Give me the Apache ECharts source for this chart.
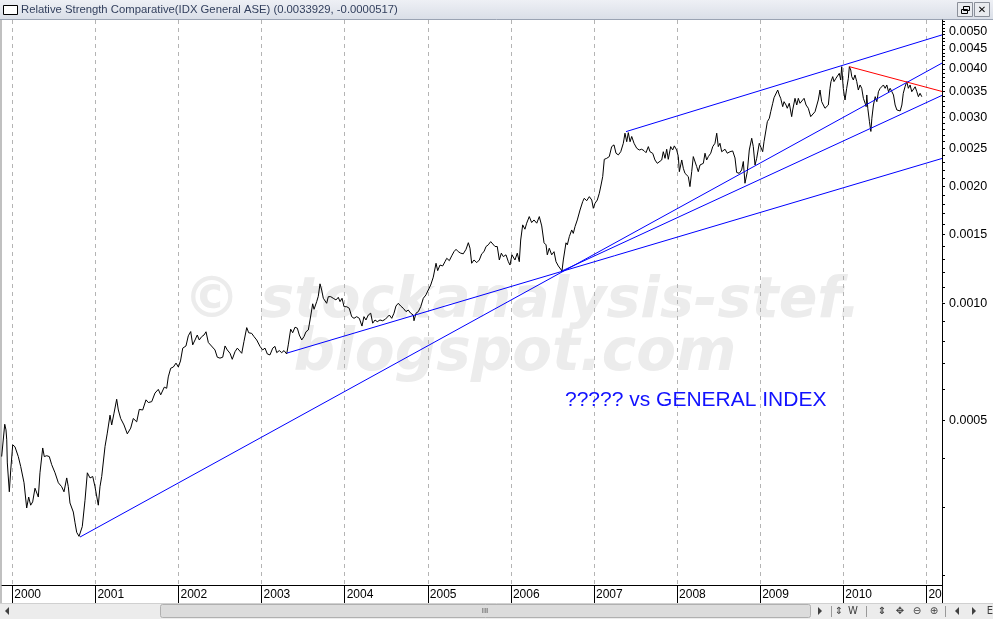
<!DOCTYPE html>
<html><head><meta charset="utf-8">
<script src="https://cdn.jsdelivr.net/npm/echarts@6/dist/echarts.min.js"></script>
<style>html,body{margin:0;padding:0;background:#fff;overflow:hidden}#c{width:993px;height:619px}</style>
</head><body><div id="c"></div>
<script>
// ---- data (decimal years, relative strength values) ----
const rsDates = [1999.872,1999.909,1999.924,1999.933,1999.940,1999.964,1999.981,2000.005,2000.032,2000.072,2000.101,2000.141,2000.173,2000.197,2000.221,2000.245,2000.273,2000.313,2000.333,2000.366,2000.385,2000.414,2000.445,2000.474,2000.514,2000.554,2000.594,2000.622,2000.655,2000.674,2000.694,2000.734,2000.755,2000.775,2000.803,2000.815,2000.842,2000.875,2000.903,2000.935,2000.968,2000.995,2001.035,2001.055,2001.076,2001.116,2001.143,2001.176,2001.196,2001.224,2001.256,2001.276,2001.304,2001.344,2001.384,2001.425,2001.456,2001.497,2001.528,2001.569,2001.609,2001.637,2001.678,2001.717,2001.757,2001.786,2001.810,2001.829,2001.858,2001.877,2001.906,2001.938,2001.970,2001.998,2002.024,2002.051,2002.090,2002.118,2002.147,2002.171,2002.199,2002.226,2002.250,2002.279,2002.307,2002.331,2002.359,2002.379,2002.439,2002.467,2002.499,2002.532,2002.560,2002.587,2002.620,2002.647,2002.680,2002.708,2002.732,2002.761,2002.788,2002.821,2002.845,2002.881,2002.909,2002.941,2002.981,2003.013,2003.041,2003.069,2003.101,2003.134,2003.161,2003.182,2003.213,2003.242,2003.270,2003.302,2003.321,2003.350,2003.374,2003.402,2003.430,2003.454,2003.483,2003.510,2003.534,2003.562,2003.583,2003.615,2003.631,2003.663,2003.682,2003.703,2003.723,2003.743,2003.763,2003.783,2003.803,2003.832,2003.863,2003.895,2003.923,2003.944,2003.968,2003.992,2004.024,2004.055,2004.084,2004.112,2004.144,2004.176,2004.208,2004.232,2004.256,2004.284,2004.313,2004.337,2004.365,2004.392,2004.425,2004.457,2004.489,2004.513,2004.537,2004.566,2004.593,2004.617,2004.645,2004.674,2004.705,2004.738,2004.765,2004.794,2004.826,2004.834,2004.858,2004.886,2004.915,2004.946,2004.978,2005.006,2005.035,2005.066,2005.099,2005.119,2005.147,2005.179,2005.207,2005.228,2005.259,2005.288,2005.315,2005.340,2005.367,2005.396,2005.427,2005.460,2005.488,2005.508,2005.528,2005.556,2005.589,2005.620,2005.649,2005.676,2005.701,2005.728,2005.757,2005.781,2005.809,2005.836,2005.861,2005.885,2005.909,2005.941,2005.969,2005.989,2006.013,2006.049,2006.077,2006.101,2006.118,2006.142,2006.169,2006.190,2006.221,2006.250,2006.278,2006.311,2006.342,2006.371,2006.399,2006.423,2006.438,2006.462,2006.491,2006.519,2006.543,2006.571,2006.591,2006.615,2006.631,2006.663,2006.679,2006.703,2006.732,2006.751,2006.772,2006.799,2006.832,2006.864,2006.883,2006.912,2006.944,2006.973,2006.992,2007.012,2007.040,2007.064,2007.085,2007.105,2007.124,2007.153,2007.184,2007.213,2007.241,2007.265,2007.293,2007.322,2007.353,2007.373,2007.394,2007.413,2007.434,2007.454,2007.482,2007.514,2007.545,2007.574,2007.602,2007.626,2007.654,2007.674,2007.707,2007.734,2007.762,2007.786,2007.815,2007.834,2007.855,2007.875,2007.894,2007.923,2007.947,2007.967,2007.995,2008.015,2008.027,2008.056,2008.075,2008.095,2008.116,2008.135,2008.155,2008.176,2008.195,2008.216,2008.236,2008.255,2008.276,2008.296,2008.316,2008.336,2008.356,2008.376,2008.405,2008.429,2008.456,2008.477,2008.496,2008.516,2008.537,2008.556,2008.577,2008.604,2008.637,2008.669,2008.697,2008.717,2008.748,2008.777,2008.797,2008.817,2008.829,2008.845,2008.869,2008.898,2008.917,2008.938,2008.958,2008.989,2009.006,2009.030,2009.046,2009.070,2009.086,2009.110,2009.127,2009.151,2009.167,2009.191,2009.211,2009.230,2009.247,2009.271,2009.287,2009.311,2009.326,2009.350,2009.379,2009.391,2009.419,2009.440,2009.459,2009.479,2009.500,2009.528,2009.552,2009.579,2009.608,2009.632,2009.660,2009.680,2009.699,2009.720,2009.740,2009.760,2009.780,2009.801,2009.820,2009.840,2009.852,2009.873,2009.888,2009.912,2009.928,2009.952,2009.969,2009.981,2010.000,2010.021,2010.041,2010.061,2010.073,2010.090,2010.102,2010.121,2010.141,2010.162,2010.181,2010.202,2010.222,2010.242,2010.263,2010.275,2010.283,2010.295,2010.315,2010.332,2010.344,2010.363,2010.384,2010.404,2010.423,2010.444,2010.464,2010.483,2010.504,2010.524,2010.544,2010.564,2010.585,2010.604,2010.624,2010.645,2010.664,2010.685,2010.705,2010.722,2010.743,2010.764,2010.783,2010.804,2010.824,2010.844,2010.865,2010.885,2010.904,2010.924,2010.945];
const rsValues = [0.000404,0.000489,0.000473,0.000446,0.000389,0.000328,0.000373,0.000433,0.000428,0.000404,0.000381,0.000346,0.000298,0.000318,0.000303,0.000309,0.000335,0.000318,0.000367,0.000425,0.000404,0.000406,0.000404,0.000385,0.000367,0.000346,0.000338,0.000328,0.000356,0.000338,0.000307,0.000291,0.000273,0.000258,0.000252,0.000251,0.000267,0.000312,0.000367,0.000356,0.000359,0.000338,0.000303,0.000338,0.000359,0.000429,0.000464,0.000516,0.000487,0.000522,0.000567,0.000532,0.000506,0.000487,0.000462,0.000478,0.000506,0.000496,0.000534,0.000532,0.000565,0.000556,0.000559,0.000588,0.000601,0.000582,0.000576,0.000609,0.000605,0.000647,0.000681,0.000686,0.000702,0.000686,0.000711,0.000767,0.000777,0.000825,0.000846,0.000782,0.000805,0.000829,0.000805,0.000821,0.000829,0.000845,0.000793,0.000798,0.000759,0.000727,0.000723,0.000727,0.000777,0.000759,0.000744,0.000718,0.000751,0.000767,0.000775,0.000744,0.000798,0.000866,0.000840,0.000837,0.000821,0.000805,0.000775,0.000759,0.000767,0.000741,0.000737,0.000767,0.000775,0.000747,0.000756,0.000747,0.000756,0.000741,0.000782,0.000858,0.000840,0.000868,0.000863,0.000829,0.000805,0.000821,0.000845,0.000854,0.000906,0.000997,0.000965,0.001010,0.001042,0.001122,0.001082,0.001030,0.001040,0.001000,0.001040,0.001040,0.001030,0.001020,0.001036,0.001010,0.001030,0.000980,0.000980,0.000971,0.000924,0.000915,0.000924,0.000915,0.000874,0.000924,0.000906,0.000933,0.000943,0.000889,0.000906,0.000897,0.000906,0.000902,0.000910,0.000915,0.000933,0.000915,0.000943,0.000984,0.001000,0.000984,0.000971,0.000952,0.000961,0.000943,0.000933,0.000902,0.000943,0.000952,0.000980,0.001030,0.001051,0.001082,0.001114,0.001167,0.001267,0.001213,0.001254,0.001247,0.001279,0.001305,0.001287,0.001324,0.001357,0.001376,0.001357,0.001345,0.001340,0.001376,0.001431,0.001385,0.001267,0.001292,0.001272,0.001292,0.001340,0.001357,0.001399,0.001413,0.001440,0.001427,0.001399,0.001399,0.001292,0.001345,0.001318,0.001332,0.001279,0.001254,0.001332,0.001292,0.001345,0.001279,0.001454,0.001590,0.001550,0.001606,0.001670,0.001612,0.001637,0.001606,0.001670,0.001580,0.001430,0.001413,0.001332,0.001385,0.001332,0.001357,0.001279,0.001247,0.001241,0.001211,0.001292,0.001430,0.001413,0.001483,0.001543,0.001512,0.001574,0.001637,0.001736,0.001824,0.001861,0.001834,0.001879,0.001842,0.001754,0.001806,0.001842,0.001917,0.002013,0.002115,0.002343,0.002357,0.002381,0.002526,0.002552,0.002429,0.002405,0.002451,0.002576,0.002734,0.002600,0.002744,0.002600,0.002682,0.002576,0.002502,0.002476,0.002487,0.002466,0.002437,0.002526,0.002451,0.002427,0.002334,0.002288,0.002266,0.002334,0.002451,0.002357,0.002487,0.002343,0.002526,0.002476,0.002537,0.002476,0.002381,0.002178,0.002334,0.002222,0.002157,0.002178,0.002115,0.001994,0.002178,0.002381,0.002405,0.002244,0.002178,0.002266,0.002244,0.002288,0.002429,0.002334,0.002381,0.002429,0.002526,0.002576,0.002734,0.002526,0.002576,0.002451,0.002451,0.002487,0.002429,0.002451,0.002462,0.002362,0.002168,0.002157,0.002200,0.002313,0.002034,0.002013,0.002178,0.002476,0.002654,0.002526,0.002266,0.002357,0.002576,0.002552,0.002451,0.002600,0.002787,0.002927,0.002987,0.003106,0.003264,0.003374,0.003394,0.003530,0.003428,0.003361,0.003199,0.003295,0.003231,0.003169,0.003264,0.003016,0.003137,0.003361,0.003231,0.003361,0.003264,0.003295,0.003361,0.003231,0.003169,0.003016,0.002987,0.003106,0.003076,0.003328,0.003530,0.003295,0.003264,0.003169,0.003137,0.003231,0.003566,0.003710,0.003821,0.003710,0.003784,0.003746,0.003896,0.003746,0.004053,0.003566,0.003328,0.003566,0.003784,0.004053,0.003974,0.003821,0.003746,0.003859,0.003710,0.003530,0.003637,0.003566,0.003361,0.003264,0.003199,0.003428,0.003169,0.002927,0.002763,0.002987,0.003231,0.003394,0.003295,0.003495,0.003566,0.003530,0.003637,0.003566,0.003637,0.003495,0.003566,0.003495,0.003428,0.003231,0.003137,0.003106,0.003119,0.003231,0.003462,0.003598,0.003710,0.003566,0.003637,0.003495,0.003530,0.003598,0.003495,0.003394,0.003462,0.003393];

// trend lines: [decimal year, value] end points
const trendFrom2000Low = [[2000.815, 0.000251], [2011.188, 0.00414]];
const trendFrom2003Low = [[2003.306, 0.000745], [2011.188, 0.002355]];
const trendFrom2006Low = [[2006.615, 0.001211], [2011.188, 0.00342]];
const trendFrom2007Top = [[2007.385, 0.00276], [2011.188, 0.00489]];
const trendFrom2010Top = [[2010.073, 0.004053], [2011.188, 0.00350]];

// axes
const xTickYears  = [2000, 2001, 2002, 2003, 2004, 2005, 2006, 2007, 2008, 2009, 2010, 2011];
const xTickLabels = ['2000','2001','2002','2003','2004','2005','2006','2007','2008','2009','2010','20'];
const yTickValues = [0.0005, 0.0010, 0.0015, 0.0020, 0.0025, 0.0030, 0.0035, 0.0040, 0.0045, 0.0050];
const yTickLabels = ['0.0005','0.0010','0.0015','0.0020','0.0025','0.0030','0.0035','0.0040','0.0045','0.0050'];
const yMinorTicks = [0.0002,0.0003,0.0004,0.0005,0.0006,0.0007,0.0008,0.0009,0.0010,0.0011,0.0012,0.0013,0.0014,0.0015,0.0016,0.0017,0.0018,0.0019,0.0020,0.0021,0.0022,0.0023,0.0024,0.0025,0.0026,0.0027,0.0028,0.0029,0.0030,0.0031,0.0032,0.0033,0.0034,0.0035,0.0036,0.0037,0.0038,0.0039,0.0040,0.0041,0.0042,0.0043,0.0044,0.0045,0.0046,0.0047,0.0048,0.0049,0.0050,0.0051,0.0052,0.0053];
const titleText = 'Relative Strength Comparative(IDX General ASE) (0.0033929, -0.0000517)';
const noteText = '????? vs GENERAL INDEX';
const watermark1 = '\u00A9 stockanalysis-stef.';
const watermark2 = 'blogspot.com';

const chart = echarts.init(document.getElementById('c'), null, {renderer: 'canvas'});
const font = 'Liberation Sans, Arial, sans-serif';

function yLabel(v) {
  for (let i = 0; i < yTickValues.length; i++) {
    if (Math.abs(yTickValues[i] - v) < 1e-7) return yTickLabels[i];
  }
  return '';
}
function trend(data, color) {
  return {type: 'line', data: data, symbol: 'none', showSymbol: false, silent: true,
    lineStyle: {color: color, width: 1}, z: 4, animation: false};
}

const ui = '#404040';
const option = {
  animation: false,
  backgroundColor: '#ffffff',
  grid: {left: 2, right: 51, top: 20, bottom: 34, containLabel: false},
  xAxis: {
    type: 'value', min: 1999.876, max: 2011.188,
    axisLine: {show: true, onZero: false, lineStyle: {color: '#000', width: 1}},
    axisTick: {show: true, customValues: xTickYears, length: 18, lineStyle: {color: '#000', width: 1}},
    axisLabel: {customValues: xTickYears, color: '#000', fontFamily: font, fontSize: 12,
      align: 'left', margin: 4, padding: [0, 0, 0, 2],
      formatter: v => xTickLabels[xTickYears.indexOf(Math.round(v))]},
    splitLine: {show: true, lineStyle: {color: '#b4b4b4', width: 1, type: [4, 4]}}
  },
  yAxis: {
    type: 'log', logBase: 10, min: 0.000189, max: 0.005341, position: 'right',
    axisLine: {show: true, lineStyle: {color: '#000', width: 1}},
    axisTick: {show: true, customValues: yMinorTicks, length: 3, lineStyle: {color: '#000', width: 1}},
    axisLabel: {customValues: yTickValues, color: '#000', fontFamily: font, fontSize: 12.5, margin: 7,
      formatter: yLabel},
    splitLine: {show: false}
  },
  series: [
    {type: 'line', data: rsDates.map((d, i) => [d, rsValues[i]]), symbol: 'none', showSymbol: false,
      lineStyle: {color: '#000', width: 1}, z: 3, animation: false, silent: true},
    trend(trendFrom2000Low, '#0000ff'),
    trend(trendFrom2003Low, '#0000ff'),
    trend(trendFrom2006Low, '#0000ff'),
    trend(trendFrom2007Top, '#0000ff'),
    trend(trendFrom2010Top, '#ff0000')
  ],
  graphic: [
    // watermark
    {type: 'text', z: -10, silent: true, style: {x: 522, y: 302, text: watermark1, fill: '#ececec',
      font: 'italic bold 57px "DejaVu Sans"', textAlign: 'center', textVerticalAlign: 'middle'}},
    {type: 'text', z: -10, silent: true, style: {x: 515, y: 355, text: watermark2, fill: '#ececec',
      font: 'italic bold 58px "DejaVu Sans"', textAlign: 'center', textVerticalAlign: 'middle'}},
    // note
    {type: 'text', z: 5, silent: true, style: {x: 565, y: 400, text: noteText, fill: '#1212ff',
      font: '21px "Liberation Sans"', textAlign: 'left', textVerticalAlign: 'middle'}},
    // left border
    {type: 'rect', silent: true, shape: {x: 0, y: 0, width: 2, height: 619}, style: {fill: '#c0c0c0'}},
    // title bar
    {type: 'rect', silent: true, shape: {x: 0, y: 0, width: 993, height: 20},
      style: {fill: new echarts.graphic.LinearGradient(0, 0, 0, 1, [{offset: 0, color: '#eef0f5'}, {offset: 1, color: '#d9dee7'}])}},
    {type: 'line', silent: true, shape: {x1: 0, y1: 19.5, x2: 993, y2: 19.5}, style: {stroke: '#9aa3b3', lineWidth: 1}},
    {type: 'rect', silent: true, shape: {x: 3.5, y: 5.5, width: 14, height: 9}, style: {fill: '#fff', stroke: '#000', lineWidth: 1}},
    {type: 'text', silent: true, style: {x: 21, y: 10, text: titleText, fill: '#33405e',
      font: '11.3px "Liberation Sans"', textVerticalAlign: 'middle'}},
    {type: 'rect', silent: true, shape: {x: 957.5, y: 2.5, width: 15, height: 14}, style: {fill: '#e9ebef', stroke: '#8a8f99'}},
    {type: 'rect', silent: true, shape: {x: 961.5, y: 9.5, width: 6, height: 4}, style: {fill: 'none', stroke: '#000'}},
    {type: 'rect', silent: true, shape: {x: 963.5, y: 6.5, width: 6, height: 4}, style: {fill: 'none', stroke: '#000'}},
    {type: 'rect', silent: true, shape: {x: 974.5, y: 2.5, width: 15, height: 14}, style: {fill: '#e9ebef', stroke: '#8a8f99'}},
    {type: 'text', silent: true, style: {x: 982, y: 10, text: '\u2715', fill: '#000', font: 'bold 10px "DejaVu Sans"', textAlign: 'center', textVerticalAlign: 'middle'}},
    // right axis continuation in label band
    {type: 'line', silent: true, shape: {x1: 942.5, y1: 585, x2: 942.5, y2: 603}, style: {stroke: '#000'}},
    // bottom scrollbar
    {type: 'rect', silent: true, shape: {x: 0, y: 603, width: 993, height: 16}, style: {fill: '#ececec'}},
    {type: 'line', silent: true, shape: {x1: 0, y1: 603.5, x2: 993, y2: 603.5}, style: {stroke: '#d0d0d0'}},
    {type: 'polygon', silent: true, shape: {points: [[5, 611], [9, 607], [9, 615]]}, style: {fill: ui}},
    {type: 'rect', silent: true, shape: {x: 160.5, y: 604.5, width: 650, height: 13, r: 2},
      style: {fill: '#dcdcdc', stroke: '#b0b0b0'}},
    {type: 'text', silent: true, style: {x: 485, y: 611, text: 'III', fill: '#555', font: '8px "Liberation Sans"', textAlign: 'center', textVerticalAlign: 'middle'}},
    {type: 'polygon', silent: true, shape: {points: [[818, 607], [822, 611], [818, 615]]}, style: {fill: ui}},
    {type: 'line', silent: true, shape: {x1: 831.5, y1: 606, x2: 831.5, y2: 617}, style: {stroke: '#999'}},
    {type: 'text', silent: true, style: {x: 839, y: 611, text: '\u21D5', fill: ui, font: '10px "DejaVu Sans"', textAlign: 'center', textVerticalAlign: 'middle'}},
    {type: 'text', silent: true, style: {x: 853, y: 611, text: 'W', fill: ui, font: '10px "DejaVu Sans"', textAlign: 'center', textVerticalAlign: 'middle'}},
    {type: 'line', silent: true, shape: {x1: 866.5, y1: 606, x2: 866.5, y2: 617}, style: {stroke: '#999'}},
    {type: 'text', silent: true, style: {x: 882, y: 611, text: '\u21D5', fill: ui, font: 'bold 10px "DejaVu Sans"', textAlign: 'center', textVerticalAlign: 'middle'}},
    {type: 'text', silent: true, style: {x: 900, y: 611, text: '\u2725', fill: ui, font: '10px "DejaVu Sans"', textAlign: 'center', textVerticalAlign: 'middle'}},
    {type: 'text', silent: true, style: {x: 917, y: 611, text: '\u2296', fill: ui, font: '10px "DejaVu Sans"', textAlign: 'center', textVerticalAlign: 'middle'}},
    {type: 'text', silent: true, style: {x: 934, y: 611, text: '\u2295', fill: ui, font: '10px "DejaVu Sans"', textAlign: 'center', textVerticalAlign: 'middle'}},
    {type: 'line', silent: true, shape: {x1: 945.5, y1: 606, x2: 945.5, y2: 617}, style: {stroke: '#999'}},
    {type: 'polygon', silent: true, shape: {points: [[955, 611], [959, 607], [959, 615]]}, style: {fill: ui}},
    {type: 'polygon', silent: true, shape: {points: [[972, 607], [976, 611], [972, 615]]}, style: {fill: ui}},
    {type: 'text', silent: true, style: {x: 990, y: 611, text: 'E', fill: ui, font: '10px "DejaVu Sans"', textAlign: 'center', textVerticalAlign: 'middle'}}
  ]
};
chart.setOption(option);
</script>
</body></html>
